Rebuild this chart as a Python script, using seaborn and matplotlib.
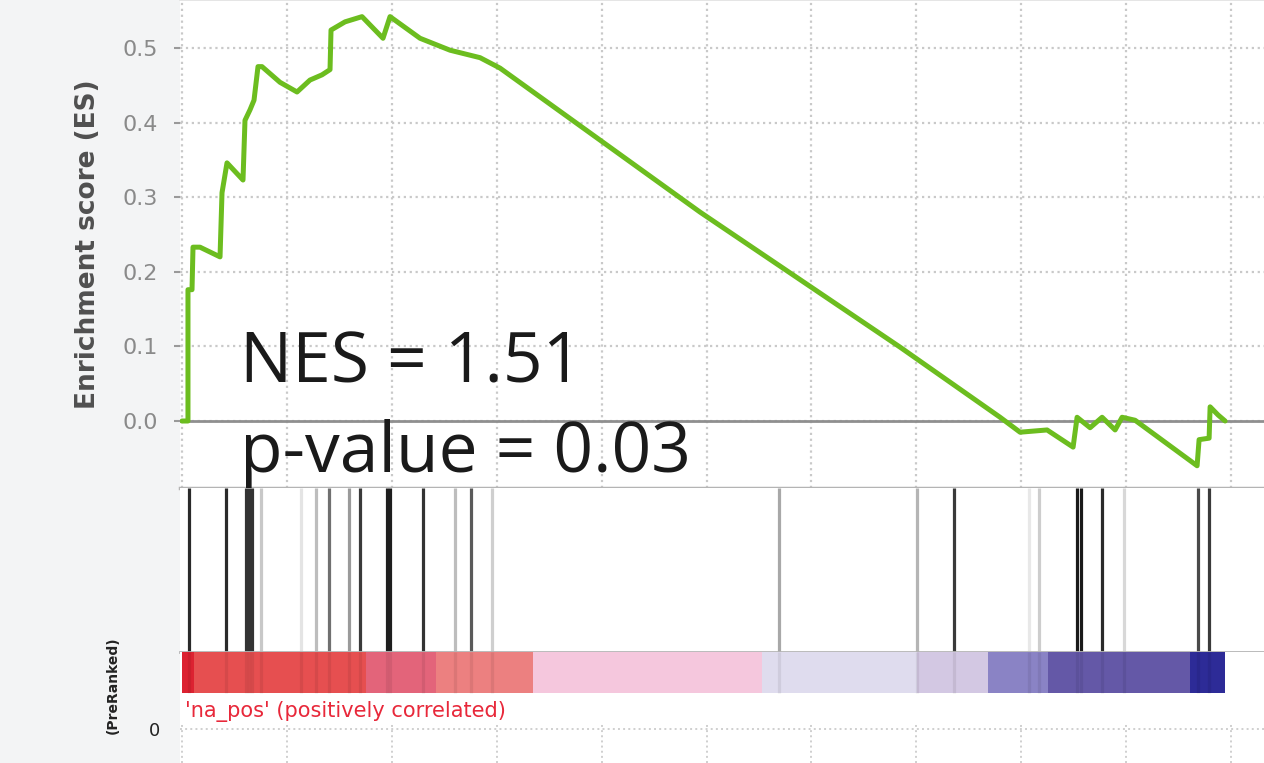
import numpy as np
import pandas as pd
import matplotlib
matplotlib.use("Agg")
import matplotlib.pyplot as plt
import seaborn as sns

# running enrichment score (rank, ES)
es_rank = [0, 114, 114, 191, 210, 343, 725, 763, 858, 1163, 1201, 1296, 1373, 1449,
           1525, 1868, 2193, 2440, 2669, 2822, 2841, 3108, 3432, 3680, 3832, 3966,
           4538, 5110, 5682, 6063, 9876, 13689, 15596, 15977, 16492, 16988, 17064,
           17312, 17541, 17789, 17922, 18170, 19352, 19390, 19581, 19600, 19753, 19886]
es_value = [0.0, 0.0, 0.176, 0.176, 0.233, 0.233, 0.220, 0.306, 0.346, 0.323, 0.403,
            0.417, 0.430, 0.475, 0.475, 0.454, 0.441, 0.457, 0.464, 0.471, 0.524,
            0.535, 0.542, 0.524, 0.513, 0.542, 0.513, 0.497, 0.487, 0.473, 0.280,
            0.099, 0.005, -0.015, -0.012, -0.035, 0.005, -0.009, 0.005, -0.012,
            0.005, 0.001, -0.060, -0.025, -0.023, 0.019, 0.008, 0.0]

# gene set hits along the ranked list and their line shade
hit_rank = [133, 839, 1220, 1277, 1335, 1506, 2269, 2555, 2803, 3184, 3394, 3909,
            3966, 4595, 5205, 5510, 5910, 11382, 14014, 14719, 16149, 16340, 17064,
            17140, 17541, 17960, 19371, 19581]
hit_shade = ['#2a2a2a', '#2a2a2a', '#333333', '#333333', '#333333', '#c8c8c8',
             '#e4e4e4', '#bdbdbd', '#707070', '#9a9a9a', '#3a3a3a', '#1e1e1e',
             '#1e1e1e', '#333333', '#bdbdbd', '#5a5a5a', '#cfcfcf', '#a8a8a8',
             '#b5b5b5', '#3a3a3a', '#e8e8e8', '#cdcdcd', '#1a1a1a', '#1a1a1a',
             '#2a2a2a', '#d8d8d8', '#4a4a4a', '#3a3a3a']

# ranked-list colour bar segments
seg_start = [0, 229, 3508, 4843, 6692, 11058, 14014, 15368, 16511, 19219]
seg_end = [229, 3508, 4843, 6692, 11058, 14014, 15368, 16511, 19219, 19886]
seg_color = ['#dc2231', '#e64f50', '#e3647a', '#ec8080', '#f5c7dd', '#dfdcee',
             '#d3c8e3', '#8a83c5', '#6458a7', '#2d2b97']

es_ticks = [0.0, 0.1, 0.2, 0.3, 0.4, 0.5]
rank_grid = [0, 2000, 4000, 6000, 8000, 10000, 12000, 14000, 16000, 18000, 20000]

es_df = pd.DataFrame({'rank': es_rank, 'es': es_value})

sns.set_theme(style="white")
plt.rcParams['font.family'] = ['DejaVu Sans']

fig = plt.figure(figsize=(12.64, 7.63), dpi=100)
fig.patch.set_facecolor('#f3f4f5')

W, H = 1264.0, 763.0
left = 180 / W
width = 1.0104 - left
xlim = (-38, 20878)

def box(top_px, bot_px):
    return [left, 1 - bot_px / H, width, (bot_px - top_px) / H]

# 1. enrichment score panel
ax = fig.add_axes(box(0, 488))
ax.set_facecolor('white')
sns.lineplot(data=es_df, x='rank', y='es', sort=False, estimator=None,
             color='#6cbd1f', linewidth=3.6, ax=ax)
ax.axhline(0, color='#8f8f8f', linewidth=2, zorder=1)
ax.set_xlim(*xlim)
ax.set_ylim(-0.0898, 0.5643)
ax.set_yticks(es_ticks)
ax.set_yticklabels(['0.0', '0.1', '0.2', '0.3', '0.4', '0.5'])
ax.set_xticks(rank_grid)
ax.tick_params(axis='x', length=0, labelbottom=False)
ax.tick_params(axis='y', length=4, width=1.5, color='#999999', pad=12,
               labelsize=16, labelcolor='#8a8a8a', left=True)
ax.grid(True, linestyle=':', color='#c9c9c9', linewidth=1.6)
ax.set_xlabel('')
ax.set_ylabel('Enrichment score (ES)', fontsize=19, fontweight='bold', color='#505050')
ax.yaxis.set_label_coords(-0.072, 0.5)
for s in ['left', 'right']:
    ax.spines[s].set_visible(False)
ax.spines['top'].set_color('#e2e2e2')
ax.spines['bottom'].set_color('#b4b4b4')
ax.spines['bottom'].set_linewidth(2.5)
ax.text(1100, 0.051, 'NES = 1.51', family=['Open Sans', 'DejaVu Sans'],
        fontsize=50, color='#1a1a1a', va='baseline', ha='left')
ax.text(1100, -0.068, 'p-value = 0.03', family=['Open Sans', 'DejaVu Sans'],
        fontsize=50, color='#1a1a1a', va='baseline', ha='left', zorder=5)

# 2. hits panel
axh = fig.add_axes(box(488, 652))
axh.set_facecolor('white')
axh.vlines(hit_rank, 0, 1, colors=hit_shade, linewidth=2.3)
axh.set_xlim(*xlim)
axh.set_ylim(0, 1)
axh.set_xticks([])
axh.set_yticks([])
for s in ['left', 'right', 'top']:
    axh.spines[s].set_visible(False)
axh.spines['bottom'].set_color('#b4b4b4')
axh.spines['bottom'].set_linewidth(2)

# 3. ranked list colour bar (bar on top, white strip with the label below)
axc = fig.add_axes(box(652, 724))
axc.set_facecolor('white')
axc.barh(0, np.array(seg_end) - np.array(seg_start), left=seg_start,
         color=seg_color, height=1, linewidth=0)
axc.vlines(hit_rank, -0.5, 0.5, colors='#000000', alpha=0.07, linewidth=2.3)
axc.set_xlim(*xlim)
axc.set_ylim(-0.5 - 31 / 41, 0.5)
axc.set_xticks([])
axc.set_yticks([])
for s in axc.spines.values():
    s.set_visible(False)
axc.text(60, 0.5 - 59 / 41, "'na_pos' (positively correlated)", color='#e8283a',
         fontsize=15, va='center', ha='left')

# 4. ranked list metric panel (mostly cropped)
axm = fig.add_axes(box(724, 763))
axm.set_facecolor('white')
axm.set_xlim(*xlim)
axm.set_ylim(-0.34, 0.05)
axm.set_yticks([0])
axm.set_yticklabels(['0'])
axm.set_xticks(rank_grid)
axm.tick_params(axis='x', length=0, labelbottom=False)
axm.tick_params(axis='y', length=0, pad=14, labelsize=13, labelcolor='#222222')
axm.grid(True, linestyle=':', color='#cfcfcf', linewidth=1.4)
for s in axm.spines.values():
    s.set_visible(False)
fig.text(113 / W, 1 - 636 / H, '(PreRanked)', rotation=90,
         ha='center', va='top', fontsize=10, fontweight='bold', color='#222222')

fig.savefig('out.png', dpi=100, facecolor=fig.get_facecolor())
